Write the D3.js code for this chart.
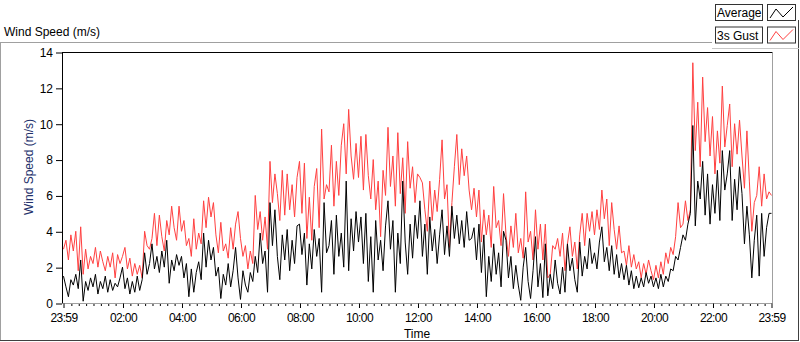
<!DOCTYPE html>
<html>
<head>
<meta charset="utf-8">
<script src="https://cdn.jsdelivr.net/npm/d3@7"></script>
<style>
  html, body { margin: 0; padding: 0; background: #fff; }
  svg { display: block; font-family: "Liberation Sans", Arial, sans-serif; }
</style>
</head>
<body>
<div id="chart"></div>
<script>
// ---- data: one sample every 5 minutes from 00:00, 12 values per row = 1 hour ----
const gust = [
  3.0, 3.5, 2.4, 3.8, 2.9, 4.0, 1.8, 4.25, 1.6, 3.0, 1.9, 2.6,
  2.2, 3.1, 2.0, 2.9, 2.3, 1.8, 2.6, 2.0, 2.8, 1.4, 2.7, 2.2,
  2.6, 3.1, 1.9, 2.5, 1.5, 2.2, 1.6, 2.1, 1.4, 4.0, 3.2, 3.0,
  3.6, 5.0, 3.2, 4.9, 3.7, 2.9, 4.6, 3.8, 5.4, 4.2, 3.5, 5.4,
  4.0, 4.6, 3.2, 3.6, 2.6, 4.7, 3.0, 3.9, 3.3, 5.7, 4.2, 5.9,
  4.8, 5.6, 3.8, 2.8, 4.5, 2.9, 3.3, 2.5, 4.2, 3.0, 4.4, 5.1,
  3.6, 2.6, 3.2, 1.9, 2.9, 2.2, 6.0, 4.1, 5.1, 3.5, 4.8, 3.0,
  7.9, 5.6, 7.2, 6.1, 4.6, 7.4, 4.9, 7.2, 5.2, 6.6, 4.8, 7.0,
  7.9, 5.0, 7.8, 3.6, 5.9, 3.5, 6.5, 7.5, 4.2, 9.7, 5.8, 6.6,
  6.2, 8.8, 5.4, 7.9, 6.0, 8.8, 10.0, 7.2, 10.8, 8.2, 6.9, 8.9,
  7.0, 9.3, 6.3, 9.4, 7.1, 5.8, 8.0, 5.2, 6.8, 3.7, 7.4, 6.0,
  9.8, 6.5, 8.2, 5.4, 9.5, 6.1, 8.1, 5.0, 9.0, 6.4, 7.6, 5.6,
  7.2, 7.0, 6.7, 5.2, 4.0, 6.8, 4.6, 6.3, 5.1, 6.9, 9.1, 5.8,
  6.6, 3.1, 5.6, 7.6, 9.4, 6.6, 8.6, 7.1, 8.2, 6.3, 5.2, 6.4,
  4.8, 6.3, 3.4, 5.2, 3.8, 4.9, 3.1, 6.5, 4.2, 4.6, 3.2, 6.1,
  3.8, 2.6, 4.3, 3.1, 5.0, 2.8, 3.6, 2.5, 6.2, 3.4, 4.0, 2.4,
  5.2, 3.0, 4.4, 2.4, 4.4, 1.4, 1.6, 3.2, 3.0, 3.6, 2.6, 3.9,
  1.8, 3.3, 4.25, 2.6, 3.4, 1.9, 3.8, 5.0, 3.2, 5.0, 4.0, 5.1,
  3.8, 5.2, 4.1, 6.3, 4.7, 5.8, 3.2, 5.6, 4.1, 3.0, 4.3, 2.8,
  2.9, 2.1, 3.2, 2.0, 2.7, 1.9, 2.3, 1.4, 2.2, 1.6, 2.4, 1.8,
  1.3, 2.1, 1.4, 2.3, 1.6, 2.8, 2.2, 3.1, 2.7, 3.7, 5.6, 4.2,
  4.4, 5.7, 4.6, 5.2, 13.4, 8.5, 11.2, 7.6, 12.6, 9.0, 10.9, 8.2,
  10.4, 7.2, 9.6, 7.8, 12.1, 8.7, 9.9, 11.1, 7.6, 10.0, 8.3, 10.2,
  8.2, 6.4, 9.6, 6.8, 4.0, 5.6, 6.0, 7.6, 5.4, 7.2, 5.8, 6.2,
  6.0
];

const average = [
  1.5, 0.9, 0.35, 1.3, 1.0, 1.6, 0.8, 2.4, 0.1, 1.2, 0.7, 1.4,
  0.9, 1.6, 0.5, 1.2, 0.8, 1.5, 0.6, 1.3, 0.7, 1.1, 0.9, 1.4,
  2.0, 0.8, 1.4, 0.5, 1.2, 0.6, 1.5, 0.7, 1.3, 2.8, 1.6, 2.2,
  3.3, 1.9, 2.6, 1.7, 2.9, 2.0, 3.5, 1.1, 2.4, 1.8, 2.7, 2.1,
  2.6, 1.4, 2.2, 0.35, 1.9, 0.6, 1.7, 2.3, 1.3, 3.9, 2.0, 3.5,
  2.4, 3.1, 1.5, 2.0, 0.25, 1.6, 1.0, 2.2, 0.9, 1.8, 3.1, 1.4,
  0.2, 1.8, 1.0, 0.6, 1.7, 1.2, 2.6, 1.7, 3.9, 2.2, 2.9, 0.6,
  5.6, 3.2, 5.2, 2.6, 1.3, 3.8, 2.4, 4.1, 1.8, 3.5, 2.2, 4.3,
  4.4, 2.7, 3.9, 1.0, 3.3, 1.9, 4.1, 2.6, 3.6, 0.6, 5.6, 2.8,
  3.2, 4.6, 1.6, 4.9, 2.6, 3.9, 2.0, 6.8, 1.8, 4.7, 2.9, 5.1,
  3.4, 4.8, 2.2, 5.0, 1.2, 3.7, 0.6, 4.6, 2.4, 3.5, 1.8, 4.3,
  5.7, 3.0, 4.6, 0.6, 3.9, 2.2, 6.8, 3.4, 1.6, 4.4, 2.5, 4.9,
  3.6, 5.7, 2.6, 4.4, 1.6, 4.8, 2.9, 4.1, 2.2, 3.8, 5.2, 2.7,
  4.3, 2.6, 5.4, 3.6, 4.9, 3.3, 4.6, 3.1, 5.1, 3.5, 3.6, 4.2,
  2.4, 4.4, 1.7, 3.8, 0.35, 2.6, 1.2, 3.3, 1.6, 2.8, 0.9, 4.0,
  3.5, 1.4, 2.6, 0.8, 2.1, 1.0, 0.15, 2.0, 3.1, 1.2, 0.25, 1.8,
  3.7, 0.9, 2.2, 0.3, 3.3, 0.4, 1.6, 0.8, 2.4, 1.1, 0.5, 2.0,
  0.6, 3.3, 1.8, 2.5, 1.3, 0.6, 3.4, 1.5, 2.6, 1.9, 3.6, 2.2,
  2.8, 1.9, 3.4, 4.25, 2.3, 3.1, 1.8, 3.2, 1.6, 2.7, 1.4, 2.2,
  1.3, 2.1, 1.0, 1.8, 0.8, 1.5, 0.85, 1.4, 0.9, 1.7, 1.1, 1.5,
  0.9, 1.4, 0.8, 1.6, 0.9, 1.5, 1.2, 1.9, 1.8, 2.6, 2.4, 3.1,
  3.8, 3.5, 4.4, 5.0, 9.9, 4.3, 6.8, 5.8, 7.9, 4.9, 7.2, 4.4,
  6.6, 5.0, 7.4, 4.6, 8.5, 6.3, 7.2, 8.5, 4.6, 6.9, 5.2, 7.6,
  6.1, 3.3, 5.4, 3.8, 1.4, 3.5, 4.9, 1.5, 5.0, 2.6, 4.2, 5.0,
  5.0
];

const sampleMinutes = 5;
const yTicks = [0, 2, 4, 6, 8, 10, 12, 14];
const xTickHours = [2, 4, 6, 8, 10, 12, 14, 16, 18, 20, 22];

const series = [
  { name: "Average",  values: average, color: "#000000" },
  { name: "3s Gust",  values: gust,    color: "#ff4040" }
];

// ---- layout ----
const W = 800, H = 342;
const plot = { left: 62, right: 772, top: 52, bottom: 303 };

const svg = d3.select("#chart").append("svg")
  .attr("width", W).attr("height", H);

// ---- scales ----
const tStart = new Date(2000, 0, 1, 23, 59);
const tEnd   = new Date(2000, 0, 2, 23, 59);
const day0   = new Date(2000, 0, 2, 0, 0);

const x = d3.scaleTime().domain([tStart, tEnd]).range([63, 771]);
const y = d3.scaleLinear().domain([0, 14]).range([plot.bottom, plot.top]);

const timeOf = i => new Date(day0.getTime() + i * sampleMinutes * 60000);

// ---- outer frame ----
svg.append("line").attr("x1", 0).attr("x2", 712).attr("y1", 42.5).attr("y2", 42.5)
  .attr("stroke", "#a0a0a0");
svg.append("line").attr("x1", 0.5).attr("x2", 0.5).attr("y1", 42).attr("y2", 341)
  .attr("stroke", "#a0a0a0");
svg.append("line").attr("x1", 0).attr("x2", 799).attr("y1", 340.5).attr("y2", 340.5)
  .attr("stroke", "#404040");
svg.append("line").attr("x1", 798.5).attr("x2", 798.5).attr("y1", 20).attr("y2", 341)
  .attr("stroke", "#404040");

// chart title
svg.append("text")
  .attr("x", 4).attr("y", 36)
  .style("font-size", "12px").attr("fill", "#000")
  .text("Wind Speed (m/s)");

// ---- plot background + clip ----
svg.append("rect")
  .attr("x", plot.left).attr("y", plot.top)
  .attr("width", plot.right - plot.left).attr("height", plot.bottom - plot.top)
  .attr("fill", "#fff");

svg.append("clipPath").attr("id", "clip")
  .append("rect")
  .attr("x", plot.left + 1).attr("y", plot.top + 1)
  .attr("width", plot.right - plot.left - 1).attr("height", plot.bottom - plot.top - 1);

const line = d3.line()
  .x((d, i) => x(timeOf(i)))
  .y(d => y(d));

// gust under, average on top
const gLines = svg.append("g").attr("clip-path", "url(#clip)");
[series[1], series[0]].forEach(s => {
  gLines.append("path")
    .datum(s.values)
    .attr("fill", "none")
    .attr("stroke", s.color)
    .attr("stroke-width", 1)
    .attr("stroke-linejoin", "miter")
    .attr("d", line);
});

// plot border: dark top/left, grey right/bottom
svg.append("line").attr("x1", plot.left).attr("x2", plot.right + 0.5)
  .attr("y1", plot.top + 0.5).attr("y2", plot.top + 0.5).attr("stroke", "#000");
svg.append("line").attr("x1", plot.left + 0.5).attr("x2", plot.left + 0.5)
  .attr("y1", plot.top).attr("y2", plot.bottom + 0.5).attr("stroke", "#000");
svg.append("line").attr("x1", plot.right + 0.5).attr("x2", plot.right + 0.5)
  .attr("y1", plot.top + 1).attr("y2", plot.bottom + 0.5).attr("stroke", "#a0a0a0");
svg.append("line").attr("x1", plot.left + 1).attr("x2", plot.right + 0.5)
  .attr("y1", plot.bottom + 0.5).attr("y2", plot.bottom + 0.5).attr("stroke", "#a0a0a0");

// ---- y axis ----
const yAxis = svg.append("g")
  .attr("transform", `translate(${plot.left},0.5)`)
  .call(d3.axisLeft(y).tickValues(yTicks).tickSize(6).tickPadding(3).tickFormat(d3.format("d")));
yAxis.select(".domain").remove();
yAxis.selectAll("line").attr("stroke", "#000");
yAxis.selectAll("text").style("font-size", "12px").attr("fill", "#000").attr("font-family", null);

svg.append("text")
  .attr("transform", `translate(33,167) rotate(-90)`)
  .attr("text-anchor", "middle")
  .style("font-size", "12px")
  .attr("fill", "#22306a")
  .text("Wind Speed (m/s)");

// ---- x axis ----
const majorTicks = [tStart, ...xTickHours.map(h => new Date(2000, 0, 2, h, 0)), tEnd];
const minorTicks = d3.timeMinute.every(15).range(day0, tEnd)
  .filter(d => d.getMinutes() !== 0 || d.getHours() % 2 !== 0);

const xMinor = svg.append("g")
  .attr("transform", `translate(0.5,${plot.bottom + 1})`)
  .call(d3.axisBottom(x).tickValues(minorTicks).tickSize(2).tickFormat(""));
xMinor.select(".domain").remove();
xMinor.selectAll("line").attr("stroke", "#000");

const xMajor = svg.append("g")
  .attr("transform", `translate(0.5,${plot.bottom + 0.5})`)
  .call(d3.axisBottom(x).tickValues(majorTicks).tickSize(4.5).tickPadding(5)
    .tickFormat(d3.timeFormat("%H:%M")));
xMajor.select(".domain").remove();
xMajor.selectAll("line").attr("stroke", "#000");
xMajor.selectAll("text").style("font-size", "12px").attr("fill", "#000")
  .attr("font-family", null).style("letter-spacing", "-0.6px");

svg.append("text")
  .attr("x", 417).attr("y", 338)
  .attr("text-anchor", "middle")
  .style("font-size", "12px").attr("fill", "#000")
  .text("Time");

// ---- legend ----
const legend = svg.append("g");
legend.append("rect").attr("x", 712).attr("y", 0).attr("width", 86).attr("height", 48)
  .attr("fill", "#fff");
legend.append("line").attr("x1", 712).attr("x2", 799).attr("y1", 48.5).attr("y2", 48.5)
  .attr("stroke", "#c8c8c8");

const icon = d3.line();
const items = legend.selectAll("g.item").data(series).enter().append("g")
  .attr("class", "item")
  .attr("transform", (d, i) => `translate(0,${i * 22.5})`);

items.append("rect")
  .attr("x", 715.5).attr("y", 4.5).attr("width", 47).attr("height", 16)
  .attr("fill", "#fff").attr("stroke", "#333");
items.append("text")
  .attr("x", 717).attr("y", 17)
  .style("font-size", "12px").attr("fill", "#000")
  .text(d => d.name);
items.append("rect")
  .attr("x", 767.5).attr("y", 4.5).attr("width", 28).attr("height", 16)
  .attr("fill", "#fff").attr("stroke", "#333");
items.append("path")
  .attr("d", icon([[770, 18], [776, 9], [783, 17], [793, 7]]))
  .attr("fill", "none")
  .attr("stroke", d => d.color)
  .attr("stroke-width", 1);
</script>
</body>
</html>
